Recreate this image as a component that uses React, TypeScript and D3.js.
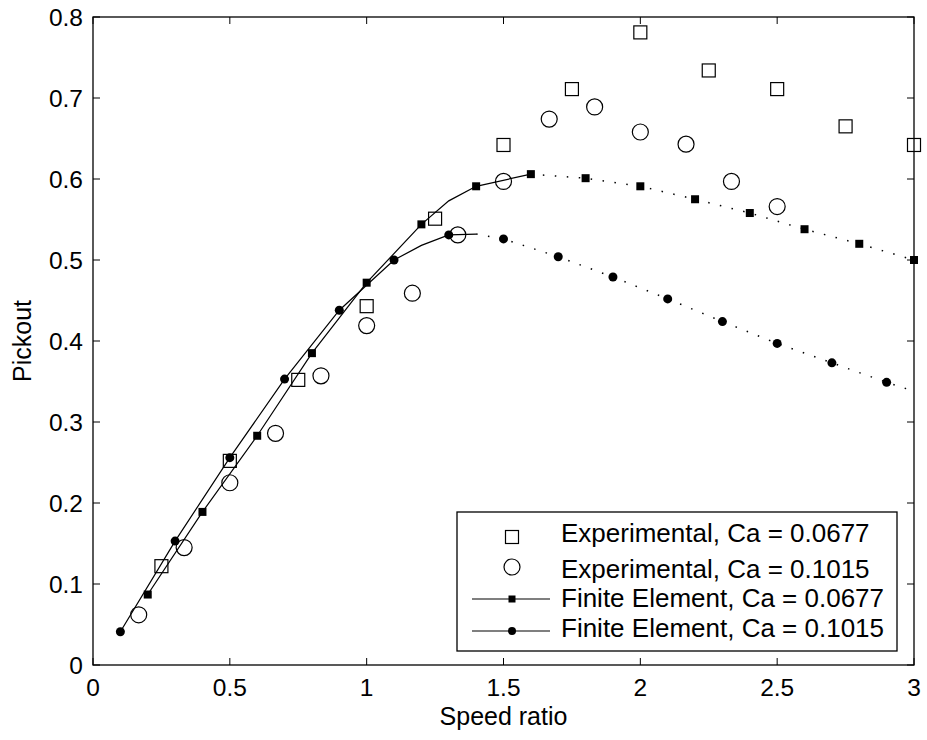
import React from "react";
import * as d3 from "d3";

// experimental, Ca = 0.0677 (open squares)
const expAx = [0.25, 0.5, 0.75, 1.0, 1.25, 1.5, 1.75, 2.0, 2.25, 2.5, 2.75, 3.0];
const expAy = [0.122, 0.252, 0.352, 0.443, 0.551, 0.642, 0.711, 0.781, 0.734, 0.711, 0.665, 0.642];

// experimental, Ca = 0.1015 (open circles)
const expBx = [0.167, 0.333, 0.5, 0.667, 0.833, 1.0, 1.167, 1.333, 1.5, 1.667, 1.833, 2.0, 2.167, 2.333, 2.5];
const expBy = [0.062, 0.145, 0.225, 0.286, 0.357, 0.419, 0.459, 0.531, 0.597, 0.674, 0.689, 0.658, 0.643, 0.597, 0.566];

// finite element, Ca = 0.0677 (filled squares)
const feAx = [0.2, 0.4, 0.6, 0.8, 1.0, 1.2, 1.4, 1.6, 1.8, 2.0, 2.2, 2.4, 2.6, 2.8, 3.0];
const feAy = [0.087, 0.189, 0.283, 0.385, 0.472, 0.544, 0.591, 0.606, 0.601, 0.591, 0.575, 0.558, 0.538, 0.52, 0.5];
// solid part of the curve (has an extra vertex between markers)
const feAsolidX = [0.2, 0.4, 0.6, 0.8, 1.0, 1.2, 1.3, 1.4, 1.6];
const feAsolidY = [0.087, 0.189, 0.283, 0.385, 0.472, 0.544, 0.573, 0.591, 0.606];

// finite element, Ca = 0.1015 (filled circles)
const feBx = [0.1, 0.3, 0.5, 0.7, 0.9, 1.1, 1.3, 1.5, 1.7, 1.9, 2.1, 2.3, 2.5, 2.7, 2.9];
const feBy = [0.041, 0.153, 0.256, 0.353, 0.438, 0.5, 0.531, 0.526, 0.504, 0.479, 0.452, 0.424, 0.397, 0.373, 0.349];
const feBsolidX = [0.1, 0.3, 0.5, 0.7, 0.9, 1.1, 1.2, 1.3, 1.4];
const feBsolidY = [0.041, 0.153, 0.256, 0.353, 0.438, 0.5, 0.518, 0.531, 0.532];
const feBdotX = [1.4, 1.5, 1.7, 1.9, 2.1, 2.3, 2.5, 2.7, 2.9, 3.0];
const feBdotY = [0.532, 0.526, 0.504, 0.479, 0.452, 0.424, 0.397, 0.373, 0.349, 0.338];

const xTicks = [0, 0.5, 1, 1.5, 2, 2.5, 3];
const yTicks = [0, 0.1, 0.2, 0.3, 0.4, 0.5, 0.6, 0.7, 0.8];

const legendLabels = [
  "Experimental, Ca = 0.0677",
  "Experimental, Ca = 0.1015",
  "Finite Element, Ca = 0.0677",
  "Finite Element, Ca = 0.1015",
];

const W = 927;
const H = 740;
const left = 93, right = 914, top = 17, bottom = 665;
const font = "'Liberation Sans', Arial, Helvetica, sans-serif";
const fs = 26;
const tickFs = 24.5;

export default function App() {
  const x = d3.scaleLinear().domain([0, 3]).range([left, right]);
  const y = d3.scaleLinear().domain([0, 0.8]).range([bottom, top]);
  const line = d3.line<[number, number]>().x((d) => x(d[0])).y((d) => y(d[1]));
  const zip = (a: number[], b: number[]) => a.map((v, i) => [v, b[i]] as [number, number]);

  const feAdotX = feAx.filter((v) => v >= 1.6);
  const feAdotY = feAy.filter((_, i) => feAx[i] >= 1.6);

  const tick = 7;
  const fmt = (v: number) => (v === 0 ? "0" : String(v));

  // legend layout
  const lgX = 457, lgY = 512, lgW = 440, lgH = 139;
  const markY = [537, 567, 599, 631];
  const textY = [542, 578, 607, 637];
  const mx = 512;

  return (
    <svg width={W} height={H} style={{ position: "absolute", left: 0, top: 0, background: "#fff" }}>
      <rect x={0} y={0} width={W} height={H} fill="#fff" />
      <rect x={left} y={top} width={right - left} height={bottom - top} fill="none" stroke="#000" strokeWidth={1.3} />
      {xTicks.map((t) => (
        <g key={"x" + t}>
          <line x1={x(t)} x2={x(t)} y1={bottom} y2={bottom - tick} stroke="#000" />
          <line x1={x(t)} x2={x(t)} y1={top} y2={top + tick} stroke="#000" />
          <text x={x(t)} y={696} textAnchor="middle" fontFamily={font} fontSize={tickFs}>{fmt(t)}</text>
        </g>
      ))}
      {yTicks.map((t) => (
        <g key={"y" + t}>
          <line x1={left} x2={left + tick} y1={y(t)} y2={y(t)} stroke="#000" />
          <line x1={right} x2={right - tick} y1={y(t)} y2={y(t)} stroke="#000" />
          <text x={83} y={y(t) + 9} textAnchor="end" fontFamily={font} fontSize={tickFs}>{fmt(t)}</text>
        </g>
      ))}
      <text x={(left + right) / 2} y={725} textAnchor="middle" fontFamily={font} fontSize={25}>Speed ratio</text>
      <text transform={`translate(31,${(top + bottom) / 2}) rotate(-90)`} textAnchor="middle" fontFamily={font} fontSize={25}>Pickout</text>

      {/* finite element lines */}
      <path d={line(zip(feAsolidX, feAsolidY)) || ""} fill="none" stroke="#000" strokeWidth={1.2} />
      <path d={line(zip(feAdotX, feAdotY)) || ""} fill="none" stroke="#000" strokeWidth={1.5} strokeDasharray="1.5 10.5" />
      <path d={line(zip(feBsolidX, feBsolidY)) || ""} fill="none" stroke="#000" strokeWidth={1.2} />
      <path d={line(zip(feBdotX, feBdotY)) || ""} fill="none" stroke="#000" strokeWidth={1.5} strokeDasharray="1.5 10.5" />

      {feAx.map((v, i) => (
        <rect key={"fa" + i} x={x(v) - 4} y={y(feAy[i]) - 4} width={8} height={8} fill="#000" />
      ))}
      {feBx.map((v, i) => (
        <circle key={"fb" + i} cx={x(v)} cy={y(feBy[i])} r={4.5} fill="#000" />
      ))}
      {expAx.map((v, i) => (
        <rect key={"ea" + i} x={x(v) - 6.5} y={y(expAy[i]) - 6.5} width={13} height={13} fill="none" stroke="#000" strokeWidth={1.2} />
      ))}
      {expBx.map((v, i) => (
        <circle key={"eb" + i} cx={x(v)} cy={y(expBy[i])} r={8} fill="none" stroke="#000" strokeWidth={1.2} />
      ))}

      {/* legend */}
      <rect x={lgX} y={lgY} width={lgW} height={lgH} fill="#fff" stroke="#000" strokeWidth={1.3} />
      <rect x={mx - 6.5} y={markY[0] - 6.5} width={13} height={13} fill="none" stroke="#000" strokeWidth={1.2} />
      <circle cx={mx} cy={markY[1]} r={8} fill="none" stroke="#000" strokeWidth={1.2} />
      <line x1={472} x2={550} y1={markY[2]} y2={markY[2]} stroke="#000" strokeWidth={1.2} />
      <rect x={mx - 3.5} y={markY[2] - 3.5} width={7} height={7} fill="#000" />
      <line x1={472} x2={550} y1={markY[3]} y2={markY[3]} stroke="#000" strokeWidth={1.2} />
      <circle cx={mx} cy={markY[3]} r={4} fill="#000" />
      {legendLabels.map((s, i) => (
        <text key={s} x={561} y={textY[i]} fontFamily={font} fontSize={fs}>{s}</text>
      ))}
    </svg>
  );
}
